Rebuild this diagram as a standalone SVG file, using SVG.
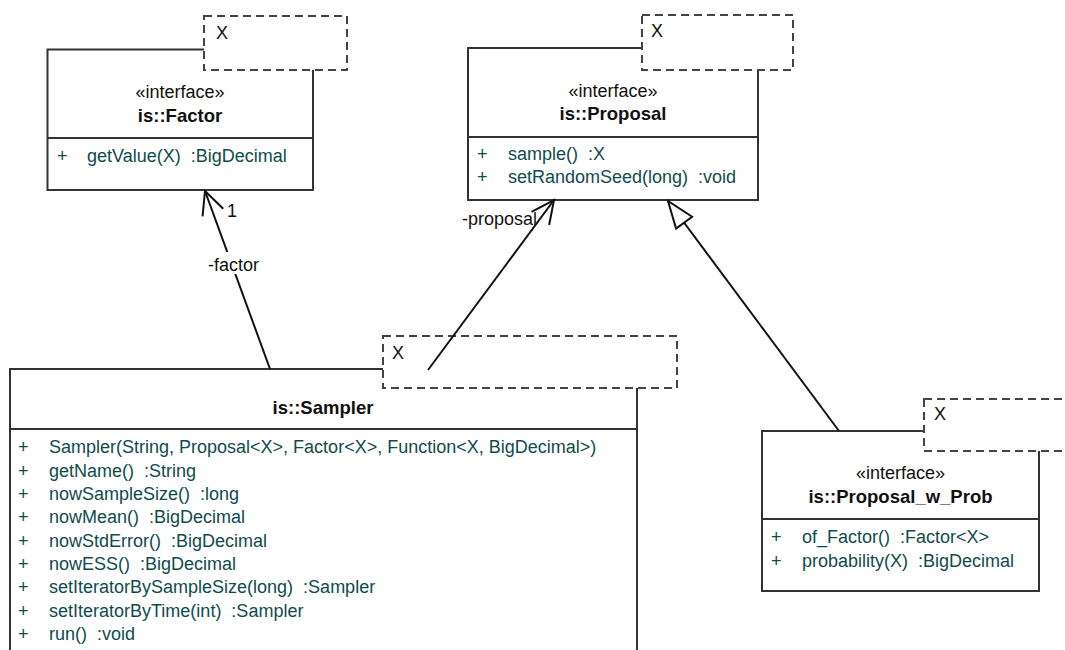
<svg xmlns="http://www.w3.org/2000/svg" width="1065" height="650" viewBox="0 0 1065 650">
  <style>
    .box { fill: #ffffff; stroke: #333333; stroke-width: 2; }
    .tpl { fill: #ffffff; stroke: #444444; stroke-width: 2; stroke-dasharray: 8 5; }
    .div { stroke: #333333; stroke-width: 2; }
    text { font-family: "Liberation Sans", Arial, sans-serif; font-size: 18px; fill: #111111; white-space: pre; }
    .st { text-anchor: middle; }
    .title { text-anchor: middle; font-weight: bold; font-size: 18.5px; }
    .mem { fill: #0f4c4c; }
    .edge { fill: none; stroke: #111111; stroke-width: 2; }
  </style>
  <defs>
    <marker id="open" markerUnits="userSpaceOnUse" markerWidth="30" markerHeight="30" viewBox="-26 -14 30 28" refX="0" refY="0" orient="auto">
      <path d="M-23,-11 L0,0 L-23,11" fill="none" stroke="#111111" stroke-width="2"/>
    </marker>
    <marker id="hollow" markerUnits="userSpaceOnUse" markerWidth="34" markerHeight="30" viewBox="-30 -14 34 28" refX="0" refY="0" orient="auto">
      <path d="M0,0 L-27,-10 L-27,10 Z" fill="#ffffff" stroke="#111111" stroke-width="2"/>
    </marker>
  </defs>

  <rect width="1065" height="650" fill="#ffffff"/>

  <!-- is::Factor -->
  <g id="factor">
    <rect class="box" x="47.5" y="49.5" width="265.5" height="140.5"/>
    <line class="div" x1="47.5" y1="138" x2="313" y2="138"/>
    <rect class="tpl" x="204" y="16" width="143" height="54"/>
    <text x="216" y="39">X</text>
    <text class="st" x="180" y="98">«interface»</text>
    <text class="title" x="180" y="122">is::Factor</text>
    <text class="mem" x="57" y="162">+</text>
    <text class="mem" x="87" y="162" xml:space="preserve">getValue(X)  :BigDecimal</text>
  </g>

  <!-- is::Proposal -->
  <g id="proposal">
    <rect class="box" x="468" y="48" width="290" height="152"/>
    <line class="div" x1="468" y1="137" x2="758" y2="137"/>
    <rect class="tpl" x="642" y="15" width="151" height="55"/>
    <text x="651" y="37">X</text>
    <text class="st" x="613" y="97">«interface»</text>
    <text class="title" x="613" y="120">is::Proposal</text>
    <text class="mem" x="477" y="160">+</text>
    <text class="mem" x="508" y="160" xml:space="preserve">sample()  :X</text>
    <text class="mem" x="477" y="183">+</text>
    <text class="mem" x="508" y="183" xml:space="preserve">setRandomSeed(long)  :void</text>
  </g>

  <!-- is::Sampler -->
  <g id="sampler">
    <rect class="box" x="10" y="369" width="627" height="300"/>
    <line class="div" x1="10" y1="429" x2="637" y2="429"/>
    <rect class="tpl" x="383" y="336" width="294" height="52"/>
    <text x="392" y="359">X</text>
    <text class="title" x="323" y="414">is::Sampler</text>
    <g class="rows" xml:space="preserve">
      <text class="mem" x="18" y="453">+</text>
      <text class="mem" x="49" y="453">Sampler(String, Proposal&lt;X&gt;, Factor&lt;X&gt;, Function&lt;X, BigDecimal&gt;)</text>
      <text class="mem" x="18" y="477">+</text>
      <text class="mem" x="49" y="477">getName()  :String</text>
      <text class="mem" x="18" y="500">+</text>
      <text class="mem" x="49" y="500">nowSampleSize()  :long</text>
      <text class="mem" x="18" y="523">+</text>
      <text class="mem" x="49" y="523">nowMean()  :BigDecimal</text>
      <text class="mem" x="18" y="547">+</text>
      <text class="mem" x="49" y="547">nowStdError()  :BigDecimal</text>
      <text class="mem" x="18" y="570">+</text>
      <text class="mem" x="49" y="570">nowESS()  :BigDecimal</text>
      <text class="mem" x="18" y="593">+</text>
      <text class="mem" x="49" y="593">setIteratorBySampleSize(long)  :Sampler</text>
      <text class="mem" x="18" y="617">+</text>
      <text class="mem" x="49" y="617">setIteratorByTime(int)  :Sampler</text>
      <text class="mem" x="18" y="640">+</text>
      <text class="mem" x="49" y="640">run()  :void</text>
    </g>
  </g>

  <!-- is::Proposal_w_Prob -->
  <g id="proposal_w_prob">
    <rect class="box" x="762" y="431" width="277" height="160"/>
    <line class="div" x1="762" y1="519" x2="1039" y2="519"/>
    <rect class="tpl" x="924" y="399" width="160" height="52"/>
    <text x="934" y="420">X</text>
    <text class="st" x="900.5" y="479">«interface»</text>
    <text class="title" x="900.5" y="503">is::Proposal_w_Prob</text>
    <text class="mem" x="771" y="543">+</text>
    <text class="mem" x="802" y="543" xml:space="preserve">of_Factor()  :Factor&lt;X&gt;</text>
    <text class="mem" x="771" y="567">+</text>
    <text class="mem" x="802" y="567" xml:space="preserve">probability(X)  :BigDecimal</text>
  </g>

  <!-- associations and generalization -->
  <g id="connectors">
    <line class="edge" x1="270" y1="369" x2="205" y2="191" marker-end="url(#open)"/>
    <text x="227" y="217">1</text>
    <rect x="206" y="252" width="58" height="22" fill="#ffffff"/>
    <text x="208" y="271">-factor</text>
    <line class="edge" x1="428" y1="370" x2="554" y2="200" marker-end="url(#open)"/>
    <text x="462" y="225">-proposal</text>
    <line class="edge" x1="839" y1="431" x2="668" y2="201" marker-end="url(#hollow)"/>
  </g>
</svg>
